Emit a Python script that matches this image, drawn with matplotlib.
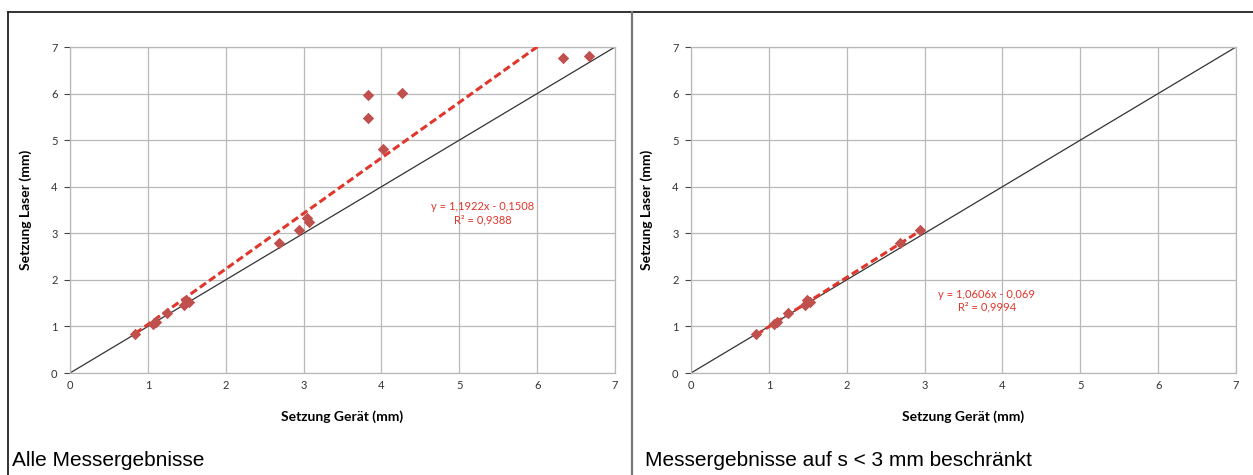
import numpy as np
import matplotlib
matplotlib.use("Agg")
import matplotlib.pyplot as plt
from matplotlib.lines import Line2D

geraet = [0.84, 1.07, 1.10, 1.25, 1.46, 1.49, 1.53, 2.68, 2.94,
          3.04, 3.07, 3.83, 3.83, 4.02, 4.27, 6.33, 6.66]
laser = [0.83, 1.06, 1.09, 1.28, 1.46, 1.56, 1.52, 2.79, 3.07,
         3.33, 3.24, 5.96, 5.48, 4.82, 6.02, 6.76, 6.81]

fits = [(1.1922, -0.1508, "y = 1,1922x - 0,1508", "R² = 0,9388"),
        (1.0606, -0.069, "y = 1,0606x - 0,069", "R² = 0,9994")]
captions = ["Alle Messergebnisse", "Messergebnisse auf s < 3 mm beschränkt"]
label_pos = [(5.30, 3.43), (3.80, 1.55)]
limit = [None, 3.0]
ticks = list(range(0, 8))

font = "Lato"

fig = plt.figure(figsize=(12.53, 4.75), dpi=100)

marker_col = "#c0504d"
trend_col = "#e0362b"
grid_col = "#b8b8b8"

lefts = [70 / 1253, 691 / 1253]
for i, x0 in enumerate(lefts):
    ax = fig.add_axes([x0, 1 - 373 / 475, 545 / 1253, 326 / 475])
    xs = np.array(geraet)
    ys = np.array(laser)
    if limit[i] is not None:
        keep = xs < limit[i]
        xs, ys = xs[keep], ys[keep]

    ax.plot([0, 7], [0, 7], color="#333333", lw=0.9, zorder=2)
    m, b, eq, r2 = fits[i]
    tx = np.array([xs.min(), xs.max()])
    ax.plot(tx, m * tx + b, color=trend_col, lw=2.2, ls=(0, (2.5, 1.2)), zorder=3)
    ax.scatter(xs, ys, marker="D", s=34, color=marker_col, zorder=4, linewidths=0)

    lx, ly = label_pos[i]
    ax.text(lx, ly, eq + "\n" + r2, color=trend_col, ha="center", va="center",
            fontsize=8, family=font, linespacing=1.2)

    ax.set_xlim(0, 7)
    ax.set_ylim(0, 7)
    ax.set_xticks(ticks)
    ax.set_yticks(ticks)
    ax.grid(True, color=grid_col, lw=0.9)
    ax.set_axisbelow(True)
    for s in ax.spines.values():
        s.set_color(grid_col)
        s.set_linewidth(0.9)
    ax.tick_params(axis="both", labelsize=8, colors="#444444", length=4,
                   width=0.8, pad=5)
    ax.tick_params(axis="x", length=0)
    for lab in ax.get_xticklabels() + ax.get_yticklabels():
        lab.set_family(font)
        lab.set_color("#333333")
    ax.set_xlabel("Setzung Gerät (mm)", fontsize=10, fontweight="bold",
                  family=font, labelpad=14)
    ax.set_ylabel("Setzung Laser (mm)", fontsize=10, fontweight="bold",
                  family=font, labelpad=14)

    fig.text((12 if i == 0 else 645) / 1253, 1 - 461 / 475, captions[i],
             fontsize=15, family="Liberation Sans", va="center", ha="left")

# panel frame
top = 1 - 12 / 475
fig.add_artist(Line2D([8 / 1253, 1], [top, top], color="#222222", lw=1.3))
fig.add_artist(Line2D([8 / 1253, 8 / 1253], [0, top], color="#222222", lw=1.3))
fig.add_artist(Line2D([632 / 1253, 632 / 1253], [0, top], color="#777777", lw=1.6))

fig.savefig("out.png", dpi=100)
